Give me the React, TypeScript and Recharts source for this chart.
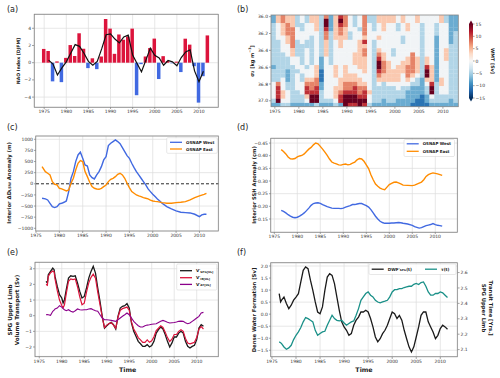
import React from "react";
import {
  ComposedChart,
  LineChart,
  ScatterChart,
  Bar,
  Line,
  Scatter,
  Cell,
  XAxis,
  YAxis,
  CartesianGrid,
  ReferenceLine,
} from "recharts";

// ---------- (a) NAO index, DJFM
const naoYears = [
  1975, 1976, 1977, 1978, 1979, 1980, 1981, 1982, 1983, 1984, 1985, 1986, 1987,
  1988, 1989, 1990, 1991, 1992, 1993, 1994, 1995, 1996, 1997, 1998, 1999, 2000,
  2001, 2002, 2003, 2004, 2005, 2006, 2007, 2008, 2009, 2010, 2011, 2012,
];
const naoIndex = [
  1.6, 1.36, -2.17, 0.15, -2.26, 0.56, 2.05, 0.78, 3.42, 1.62, -0.63, 0.51, -0.75,
  0.72, 5.08, 3.96, 1.03, 3.28, 2.67, 3.03, 3.96, -3.78, -0.17, 0.72, 1.7, 2.8,
  -1.9, 0.76, 0.2, -0.07, 0.12, -1.09, 2.79, 2.1, -0.41, -4.64, -1.57, 3.17,
];
const naoSmoothYears = [
  1976, 1977, 1978, 1979, 1980, 1981, 1982, 1983, 1984, 1985, 1986, 1987, 1988,
  1989, 1990, 1991, 1992, 1993, 1994, 1995, 1996, 1997, 1998, 1999, 2000, 2001,
  2002, 2003, 2004, 2005, 2006, 2007, 2008, 2009, 2010, 2011,
];
const naoSmooth = [
  0.3, -0.15, -1.43, -0.6, 0.1, 1.1, 2.1, 1.9, 1.1, 0.15, -0.3, 0.15, 1.6, 3.25,
  3.35, 2.75, 2.3, 3.0, 3.2, 0.9, -0.1, -1.05, 0.3, 1.7, 0.85, 0.55, -0.3, 0.25,
  0.1, -0.35, 0.6, 1.25, 1.5, -0.95, -2.2, -1.0,
];

// ---------- (b) water mass transformation, one string per column, top to bottom
const wmtYears = [
  1974.7, 1975.7, 1976.7, 1977.7, 1978.7, 1979.7, 1980.7, 1981.7, 1982.7, 1983.7,
  1984.7, 1985.7, 1986.7, 1987.7, 1988.7, 1989.7, 1990.7, 1991.7, 1992.7, 1993.7,
  1994.7, 1995.7, 1996.7, 1997.7, 1998.7, 1999.7, 2000.7, 2001.7, 2002.7, 2003.7,
  2004.7, 2005.7, 2006.7, 2007.7, 2008.7, 2009.7, 2010.7, 2011.7, 2012.7,
];
const sigmaLevels = [
  36.0, 36.05, 36.1, 36.15, 36.2, 36.25, 36.3, 36.35, 36.4, 36.45, 36.5, 36.55,
  36.6, 36.65, 36.7, 36.75, 36.8, 36.85, 36.9, 36.95, 37.0, 37.05,
];
// level 0..8 -> Sv
const wmtLevelSv = [-15, -11, -7.5, -4.5, -0.5, 4, 7.5, 11, 15];
const wmtCols = [
  "2233333333332333444432",
  "5544443333333333677782",
  "6655544443333334445543",
  "5566655444333222334443",
  "5556666655443333333332",
  "3334443333444344443332",
  "4433444333334433444332",
  "3344443344443445677542",
  "5544433333334445667882",
  "5555444444445556677883",
  "3333333333222111223332",
  "6887665555444444444432",
  "2222333333334444444432",
  "5555554444445554455543",
  "7876655544444445556772",
  "6665554444445555667888",
  "4444334444444455667887",
  "3334444445554455677887",
  "4443445555555445566788",
  "6666657566555544567787",
  "3344444444444444445443",
  "3333443333333333333332",
  "5544454456788765433332",
  "5555444445566655333322",
  "5544444444455555433332",
  "5544444433444555433332",
  "4433444444445555443322",
  "5544433444455544433322",
  "4455444444556665432222",
  "4444444446666654322221",
  "5544444444555543322211",
  "4433333333333332222111",
  "4444444444557885433221",
  "4444444444445555788432",
  "4433322222222222333332",
  "5544444444444445544332",
  "3344444455544444444332",
  "2222222333333333333322",
  "2222333333333333333332",
];
const cbTicks = [15, 10, 5, 0, -5, -10, -15];

// ---------- (c) interior LSW thickness anomaly (m)
const cYears = [
  1976.3, 1977, 1977.5, 1978, 1978.5, 1979, 1979.5, 1980, 1980.5, 1981, 1981.5,
  1982, 1982.5, 1983, 1983.5, 1984, 1984.5, 1985, 1985.5, 1986, 1986.5, 1987,
  1987.5, 1988, 1988.5, 1989, 1989.5, 1990, 1990.5, 1991, 1991.5, 1992, 1992.5,
  1993, 1993.5, 1994, 1994.5, 1995, 1995.5, 1996, 1996.5, 1997, 1997.5, 1998,
  1998.5, 1999, 1999.5, 2000, 2000.5, 2001, 2001.5, 2002, 2002.5, 2003, 2004,
  2005, 2006, 2007, 2008, 2009, 2010, 2010.5, 2011, 2011.5,
];
const cWest = [
  -326, -340, -363, -438, -513, -535, -513, -453, -438, -415, -386, -176, 124,
  273, 498, 648, 710, 573, 423, 400, 199, 139, 109, 199, 273, 386, 536, 610, 858,
  910, 948, 985, 948, 900, 812, 723, 633, 573, 461, 363, 273, 199, 124, 49, -26,
  -116, -176, -236, -288, -340, -386, -438, -475, -513, -565, -610, -640, -648,
  -655, -685, -738, -700, -685, -685,
];
const cEast = [
  386, 273, 236, 199, 49, -11, -26, -101, -116, -139, -161, -139, 11, 124, 311,
  461, 520, 498, 273, 161, 34, -64, -101, -116, -124, -101, -64, -26, 49, 101,
  124, 161, 213, 236, 199, 124, 11, -86, -176, -213, -251, -273, -290, -311,
  -325, -340, -365, -386, -395, -401, -412, -423, -430, -438, -438, -423, -415,
  -401, -363, -311, -273, -255, -236, -213,
];

// ---------- (d) interior SSH anomaly
const dYears = [
  1976.5, 1977, 1977.5, 1978, 1978.5, 1979, 1979.5, 1980, 1980.5, 1981, 1981.5,
  1982, 1982.5, 1983, 1983.5, 1984, 1984.5, 1985, 1985.5, 1986, 1986.5, 1987,
  1987.5, 1988, 1988.5, 1989, 1989.5, 1990, 1990.5, 1991, 1991.5, 1992, 1992.5,
  1993, 1993.5, 1994, 1994.5, 1995, 1995.5, 1996, 1996.5, 1997, 1997.5, 1998,
  1998.5, 1999, 1999.5, 2000, 2000.5, 2001, 2001.5, 2002, 2002.5, 2003, 2004,
  2005, 2005.5, 2006, 2006.5, 2007, 2007.5, 2008, 2008.5, 2009, 2009.5, 2010,
  2010.5, 2011, 2011.5,
];
const dEast = [
  -0.424, -0.417, -0.407, -0.395, -0.388, -0.387, -0.389, -0.395, -0.399, -0.401,
  -0.407, -0.417, -0.426, -0.433, -0.443, -0.45, -0.447, -0.437, -0.426, -0.414,
  -0.401, -0.387, -0.375, -0.371, -0.368, -0.364, -0.363, -0.366, -0.367, -0.364,
  -0.366, -0.371, -0.375, -0.384, -0.389, -0.387, -0.378, -0.364, -0.349, -0.325,
  -0.305, -0.288, -0.279, -0.272, -0.268, -0.266, -0.276, -0.286, -0.291, -0.295,
  -0.296, -0.293, -0.289, -0.284, -0.283, -0.282, -0.284, -0.288, -0.292, -0.296,
  -0.305, -0.318, -0.325, -0.329, -0.332, -0.33, -0.328, -0.325, -0.322,
];
const dWest = [
  -0.184, -0.18, -0.174, -0.167, -0.161, -0.157, -0.155, -0.157, -0.161, -0.167,
  -0.174, -0.183, -0.193, -0.204, -0.211, -0.213, -0.214, -0.212, -0.207, -0.203,
  -0.199, -0.196, -0.193, -0.192, -0.192, -0.192, -0.191, -0.193, -0.197, -0.2,
  -0.203, -0.207, -0.207, -0.209, -0.211, -0.211, -0.207, -0.203, -0.197, -0.187,
  -0.174, -0.161, -0.15, -0.141, -0.136, -0.133, -0.133, -0.133, -0.134, -0.134,
  -0.135, -0.136, -0.135, -0.133, -0.13, -0.125, -0.12, -0.117, -0.114, -0.116,
  -0.12, -0.124, -0.126, -0.128, -0.132, -0.128, -0.125, -0.124, -0.122,
];

// ---------- (e) SPG upper limb volume transport (Sv)
const eYears = [
  1976.5, 1976.8, 1977, 1977.5, 1978, 1978.3, 1978.5, 1979, 1979.5, 1980, 1980.3,
  1980.6, 1981, 1981.5, 1982, 1982.5, 1983, 1983.5, 1984, 1984.5, 1985, 1985.5,
  1986, 1986.5, 1987, 1987.5, 1988, 1988.5, 1989, 1989.5, 1990, 1990.5, 1991,
  1991.5, 1992, 1992.5, 1993, 1993.5, 1994, 1994.5, 1995, 1995.5, 1996, 1996.5,
  1997, 1997.5, 1998, 1998.5, 1999, 1999.5, 2000, 2000.5, 2001, 2001.5, 2002,
  2002.5, 2003, 2003.5, 2004, 2004.5, 2005, 2005.5, 2006, 2006.5, 2007, 2007.5,
  2008, 2008.5, 2009, 2009.5, 2010, 2010.5, 2011, 2011.5,
];
const eSpg = [
  2.19, 2.09, 2.62, 2.83, 3.04, 2.94, 2.51, 1.87, 1.34, 1.13, 0.81, 1.02, 1.66,
  2.4, 2.55, 2.51, 2.55, 2.09, 1.55, 1.13, 1.23, 1.77, 2.4, 2.83, 3.15, 2.72,
  1.77, 0.91, -0.04, -0.79, -0.64, -0.51, -0.43, -0.57, -0.85, -0.04, 0.49, 0.6,
  0.64, 0.77, 0.49, -0.47, -1.0, -1.32, -1.64, -1.79, -1.96, -1.96, -1.85, -2.0,
  -1.91, -1.64, -1.11, -0.89, -0.72, -0.85, -1.21, -1.64, -2.0, -1.74, -1.36,
  -1.36, -1.11, -1.0, -1.11, -1.64, -1.96, -2.06, -1.96, -1.89, -1.53, -0.79,
  -0.57, -0.68,
];
const eIb = [
  2.0, 1.95, 2.5, 2.75, 2.85, 2.8, 2.35, 1.6, 1.0, 0.65, 0.5, 0.7, 1.4, 2.2,
  2.35, 2.3, 2.35, 1.85, 1.2, 0.7, 0.8, 1.5, 2.1, 2.45, 2.65, 2.4, 1.5, 0.7, -0.1,
  -0.75, -0.6, -0.5, -0.45, -0.6, -0.8, -0.1, 0.35, 0.45, 0.5, 0.55, 0.35, -0.4,
  -0.85, -1.1, -1.4, -1.55, -1.7, -1.7, -1.55, -1.7, -1.6, -1.35, -0.95, -0.8,
  -0.65, -0.75, -1.05, -1.4, -1.65, -1.5, -1.2, -1.2, -1.0, -0.9, -1.0, -1.45,
  -1.75, -1.8, -1.75, -1.7, -1.4, -0.85, -0.7, -0.85,
];
const eAt = [
  0.06, 0.07, 0.06, 0.02, 0.28, 0.35, 0.43, 0.49, 0.64, 0.55, 0.45, 0.38, 0.32,
  0.38, 0.28, 0.23, 0.32, 0.43, 0.38, 0.36, 0.38, 0.38, 0.43, 0.45, 0.38, 0.32,
  0.28, 0.06, -0.15, -0.26, -0.26, -0.28, -0.3, -0.33, -0.36, -0.26, -0.15,
  -0.04, 0.06, 0.17, 0.06, -0.15, -0.36, -0.51, -0.64, -0.72, -0.72, -0.64, -0.6,
  -0.58, -0.55, -0.53, -0.51, -0.43, -0.36, -0.3, -0.36, -0.42, -0.47, -0.45,
  -0.43, -0.4, -0.36, -0.35, -0.36, -0.45, -0.51, -0.47, -0.36, -0.26, -0.15,
  -0.04, 0.17, 0.21,
];

// ---------- (f) dense water formation (Sv) and transit time (yrs)
const fYears = [
  1976.5, 1976.8, 1977, 1977.5, 1978, 1978.5, 1979, 1979.5, 1980, 1980.5, 1981,
  1981.5, 1982, 1982.5, 1983, 1983.5, 1984, 1984.5, 1985, 1985.5, 1986, 1986.5,
  1987, 1987.5, 1988, 1988.5, 1989, 1989.5, 1990, 1990.5, 1991, 1991.5, 1992,
  1992.5, 1993, 1993.5, 1994, 1994.5, 1995, 1995.5, 1996, 1996.5, 1997, 1997.5,
  1998, 1998.5, 1999, 1999.5, 2000, 2000.5, 2001, 2001.5, 2002, 2002.5, 2003,
  2003.5, 2004, 2004.5, 2005, 2005.5, 2006, 2006.5, 2007, 2007.5, 2008, 2008.5,
  2009, 2009.5, 2010, 2010.5, 2011, 2011.5,
];
const fDwf = [
  0.85, 0.51, 0.58, 0.71, 0.44, 0.23, 0.37, 0.58, 0.71, 0.85, 1.34, 1.82, 1.96,
  1.89, 1.41, 0.99, 0.51, 0.09, 0.02, 0.3, 0.99, 1.54, 1.68, 1.61, 1.27, 0.71,
  0.16, -0.32, -0.53, -0.67, -0.88, -0.81, -0.46, -0.25, -0.12, 0.09, 0.09, 0.16,
  0.09, -0.18, -0.53, -0.95, -1.15, -1.02, -0.81, -0.67, -0.46, -0.18, 0.09, 0.02,
  -0.18, -0.05, -0.25, -0.67, -1.02, -1.36, -1.57, -1.36, -0.95, -0.53, -0.05,
  0.09, 0.09, -0.32, -0.53, -0.74, -1.02, -0.88, -0.6, -0.46, -0.53, -0.63,
];
const fTau = [
  2.15, 2.145, 2.139, 2.117, 2.102, 2.111, 2.128, 2.165, 2.193, 2.215, 2.243,
  2.28, 2.308, 2.301, 2.29, 2.28, 2.225, 2.193, 2.204, 2.215, 2.219, 2.258, 2.29,
  2.323, 2.301, 2.29, 2.286, 2.29, 2.273, 2.258, 2.269, 2.28, 2.286, 2.323, 2.366,
  2.42, 2.442, 2.464, 2.474, 2.453, 2.442, 2.42, 2.409, 2.403, 2.409, 2.414, 2.42,
  2.442, 2.474, 2.489, 2.489, 2.496, 2.496, 2.503, 2.507, 2.511, 2.511, 2.524,
  2.529, 2.522, 2.535, 2.539, 2.511, 2.474, 2.453, 2.453, 2.464, 2.464, 2.474,
  2.468, 2.453, 2.438,
];

const yearTicks = [1975, 1980, 1985, 1990, 1995, 2000, 2005, 2010];

// ---------- styling
const FONT = "DejaVu Sans, sans-serif";
const TICK = { fontSize: 4.5, fill: "#333", fontFamily: FONT };
const TL = { stroke: "#666", strokeWidth: 0.6 };
const GRID = "#dcdcdc";
const RED = "#dc143c";
const BLUE = "#4169e1";
const ORANGE = "#ff8c00";
const PURPLE = "#8b008b";
const TEAL = "#1a9088";
const rdbu = [
  "#053061", "#2166ac", "#4393c3", "#92c5de", "#d1e5f0", "#f7f7f7",
  "#fddbc7", "#f4a582", "#d6604d", "#b2182b", "#67001f",
];

function hex(c: string) {
  return [1, 3, 5].map((i) => parseInt(c.slice(i, i + 2), 16));
}
function rdbuColor(v: number) {
  const t = Math.max(0, Math.min(1, (v + 15) / 30)) * 10;
  const i = Math.min(9, Math.floor(t));
  const f = t - i;
  const a = hex(rdbu[i]);
  const b = hex(rdbu[i + 1]);
  const m = a.map((x, k) => Math.round(x + (b[k] - x) * f));
  return `rgb(${m[0]},${m[1]},${m[2]})`;
}

const minus = (s: string) => s.replace("-", "\u2212");
const fmt0 = (v: number) => minus(String(v));
const fmt1 = (v: number) => minus(v.toFixed(1));
const fmt2 = (v: number) => minus(v.toFixed(2));

// plot boxes (figure pixels)
type Box = { x0: number; y0: number; x1: number; y1: number };
const PANEL: Record<string, Box> = {
  a: { x0: 34.3, y0: 14.3, x1: 218.3, y1: 107.3 },
  b: { x0: 271, y0: 15, x1: 458.3, y1: 106.7 },
  c: { x0: 35.7, y0: 136, x1: 218.3, y1: 231 },
  d: { x0: 270.7, y0: 138.3, x1: 457.3, y1: 232.3 },
  e: { x0: 35, y0: 262.3, x1: 218.3, y1: 356.7 },
  f: { x0: 270.7, y0: 262.7, x1: 457.3, y1: 356.7 },
};
const YW = 30;
const MT = 4;
const XH = 14;
const MR = 4;

function geo(b: Box, rw = 0) {
  return {
    style: { position: "absolute" as const, left: b.x0 - YW, top: b.y0 - MT },
    width: b.x1 - b.x0 + YW + (rw || MR),
    height: b.y1 - b.y0 + MT + XH,
    margin: { top: MT, right: rw ? 0 : MR, bottom: 0, left: 0 },
  };
}

const xAxis = (domain: number[], key = "year") => (
  <XAxis
    type="number"
    dataKey={key}
    domain={domain}
    ticks={yearTicks}
    allowDataOverflow
    interval={0}
    height={XH}
    tick={TICK}
    tickSize={2}
    tickMargin={1}
    axisLine={false}
    tickLine={TL}
  />
);

// ---------- rows
const smoothByYear: Record<number, number> = {};
naoSmoothYears.forEach((y, i) => (smoothByYear[y] = naoSmooth[i]));
const naoRows = naoYears.map((y, i) => ({ year: y, nao: naoIndex[i], smooth: smoothByYear[y] }));
const wmtCells = wmtYears.flatMap((yr, i) =>
  sigmaLevels.map((s, j) => ({ year: yr, sigma: s, v: wmtLevelSv[Number(wmtCols[i][j] ?? 4)] }))
);
const cRows = cYears.map((y, i) => ({ year: y, west: cWest[i], east: cEast[i] }));
const dRows = dYears.map((y, i) => ({ year: y, west: dWest[i], east: dEast[i] }));
const eRows = eYears.map((y, i) => ({ year: y, spg: eSpg[i], ib: eIb[i], at: eAt[i] }));
const fRows = fYears.map((y, i) => ({ year: y, dwf: fDwf[i], tau: fTau[i] }));

function PanelA() {
  const g = geo(PANEL.a);
  return (
    <div style={g.style}>
      <ComposedChart width={g.width} height={g.height} margin={g.margin} data={naoRows}>
        <CartesianGrid stroke={GRID} strokeWidth={0.7} />
        {xAxis([1972.7, 2014.3])}
        <YAxis type="number" domain={[-5.15, 5.66]} ticks={[-4, -2, 0, 2, 4]} allowDataOverflow width={YW}
          tick={TICK} tickFormatter={fmt0} tickSize={2} tickMargin={1} axisLine={false} tickLine={TL} />
        <Bar dataKey="nao" barSize={3.5} isAnimationActive={false}>
          {naoRows.map((r, i) => (
            <Cell key={i} fill={r.nao >= 0 ? RED : BLUE} />
          ))}
        </Bar>
        <Line dataKey="smooth" type="linear" stroke="#111" strokeWidth={1.2} dot={false} isAnimationActive={false} />
      </ComposedChart>
    </div>
  );
}

const bBox = PANEL.b;
const CW = (bBox.x1 - bBox.x0) / (2013.2 - 1974.2);
const CH = ((bBox.y1 - bBox.y0) * 0.05) / (37.07 - 35.98);
const HeatCell = (p: any) => (
  <rect x={p.cx - CW / 2} y={p.cy - CH / 2} width={CW + 0.2} height={CH + 0.2} fill={rdbuColor(p.payload.v)} />
);
const sigmaTicks = [36.0, 36.2, 36.4, 36.6, 36.8, 37.0];

function PanelB() {
  const g = geo(PANEL.b);
  return (
    <div style={g.style}>
      <ScatterChart width={g.width} height={g.height} margin={g.margin}>
        {xAxis([1974.2, 2013.2])}
        <YAxis type="number" dataKey="sigma" domain={[35.98, 37.07]} reversed ticks={sigmaTicks} allowDataOverflow
          width={YW} tick={TICK} tickFormatter={fmt1} tickSize={2} tickMargin={1} axisLine={false} tickLine={TL} />
        <Scatter data={wmtCells} shape={HeatCell} isAnimationActive={false} />
        {yearTicks.map((t) => (
          <ReferenceLine key={"x" + t} x={t} stroke="#777" strokeOpacity={0.45} strokeWidth={0.6} />
        ))}
        {sigmaTicks.map((t) => (
          <ReferenceLine key={"y" + t} y={t} stroke="#777" strokeOpacity={0.45} strokeWidth={0.6} />
        ))}
      </ScatterChart>
    </div>
  );
}

function PanelC() {
  const g = geo(PANEL.c);
  return (
    <div style={g.style}>
      <LineChart width={g.width} height={g.height} margin={g.margin} data={cRows}>
        <CartesianGrid stroke={GRID} strokeWidth={0.7} />
        {xAxis([1975, 2014.1])}
        <YAxis type="number" domain={[-1061, 1074]} ticks={[-1000, -750, -500, -250, 0, 250, 500, 750, 1000]}
          allowDataOverflow width={YW} tick={TICK} tickFormatter={fmt0} tickSize={2} tickMargin={1}
          axisLine={false} tickLine={TL} />
        <ReferenceLine y={0} stroke="#111" strokeWidth={0.9} strokeDasharray="3 2" />
        <Line dataKey="west" stroke={BLUE} strokeWidth={1.4} dot={false} isAnimationActive={false} />
        <Line dataKey="east" stroke={ORANGE} strokeWidth={1.4} dot={false} isAnimationActive={false} />
      </LineChart>
    </div>
  );
}

function PanelD() {
  const g = geo(PANEL.d);
  return (
    <div style={g.style}>
      <LineChart width={g.width} height={g.height} margin={g.margin} data={dRows}>
        <CartesianGrid stroke={GRID} strokeWidth={0.7} />
        {xAxis([1974.28, 2014.85])}
        <YAxis type="number" domain={[-0.47, -0.0986]} reversed ticks={[-0.45, -0.4, -0.35, -0.3, -0.25, -0.2, -0.15]}
          allowDataOverflow width={YW} tick={TICK} tickFormatter={fmt2} tickSize={2} tickMargin={1}
          axisLine={false} tickLine={TL} />
        <Line dataKey="west" stroke={BLUE} strokeWidth={1.4} dot={false} isAnimationActive={false} />
        <Line dataKey="east" stroke={ORANGE} strokeWidth={1.4} dot={false} isAnimationActive={false} />
      </LineChart>
    </div>
  );
}

function PanelE() {
  const g = geo(PANEL.e);
  return (
    <div style={g.style}>
      <LineChart width={g.width} height={g.height} margin={g.margin} data={eRows}>
        <CartesianGrid stroke={GRID} strokeWidth={0.7} />
        {xAxis([1974.05, 2014.8])}
        <YAxis type="number" domain={[-2.6, 3.43]} ticks={[-2, -1, 0, 1, 2, 3]} allowDataOverflow width={YW}
          tick={TICK} tickFormatter={fmt0} tickSize={2} tickMargin={1} axisLine={false} tickLine={TL} />
        <Line dataKey="spg" stroke="#1a1a1a" strokeWidth={1.3} dot={false} isAnimationActive={false} />
        <Line dataKey="ib" stroke={RED} strokeWidth={1.2} dot={false} isAnimationActive={false} />
        <Line dataKey="at" stroke={PURPLE} strokeWidth={1.1} dot={false} isAnimationActive={false} />
      </LineChart>
    </div>
  );
}

function PanelF() {
  const RW = 28;
  const g = geo(PANEL.f, RW);
  return (
    <div style={g.style}>
      <LineChart width={g.width} height={g.height} margin={g.margin} data={fRows}>
        <CartesianGrid stroke={GRID} strokeWidth={0.7} yAxisId="l" />
        {xAxis([1974.8, 2013.6])}
        <YAxis yAxisId="l" type="number" domain={[-1.78, 2.125]} ticks={[-1.5, -1, -0.5, 0, 0.5, 1, 1.5, 2]}
          allowDataOverflow width={YW} tick={TICK} tickFormatter={fmt1} tickSize={2} tickMargin={1}
          axisLine={false} tickLine={TL} />
        <YAxis yAxisId="r" orientation="right" type="number" domain={[2.052, 2.662]}
          ticks={[2.1, 2.2, 2.3, 2.4, 2.5, 2.6]} allowDataOverflow width={RW} tick={TICK} tickFormatter={fmt1}
          tickSize={2} tickMargin={1} axisLine={false} tickLine={TL} />
        <Line yAxisId="l" dataKey="dwf" stroke="#1a1a1a" strokeWidth={1.3} dot={false} isAnimationActive={false} />
        <Line yAxisId="r" dataKey="tau" stroke={TEAL} strokeWidth={1.3} dot={false} isAnimationActive={false} />
      </LineChart>
    </div>
  );
}

// ---------- text, frames, legends, colorbar
const VLabel = ({ x, y, size, rot = -90, children }: any) => (
  <text transform={`translate(${x},${y}) rotate(${rot})`} textAnchor="middle" dominantBaseline="central"
    fontSize={size} fontWeight="bold" fill="#222">
    {children}
  </text>
);

const LegendRow = ({ x, y, color, children, size = 4 }: any) => (
  <g>
    <line x1={x} x2={x + 12} y1={y} y2={y} stroke={color} strokeWidth={1.3} />
    <text x={x + 16} y={y} dominantBaseline="central" fontSize={size} fontWeight="bold" fill="#222">
      {children}
    </text>
  </g>
);

function Overlay() {
  const cbTop = 24;
  const cbBot = 98;
  const cbY = (v: number) => cbTop + ((15 - v) / 30) * (cbBot - cbTop);
  return (
    <svg width={500} height={378} style={{ position: "absolute", left: 0, top: 0, pointerEvents: "none" }}
      fontFamily={FONT}>
      <defs>
        <linearGradient id="rdbuGrad" x1="0" y1="1" x2="0" y2="0">
          {rdbu.map((c, i) => (
            <stop key={i} offset={i / 10} stopColor={c} />
          ))}
        </linearGradient>
      </defs>
      {Object.values(PANEL).map((b, i) => (
        <rect key={i} x={b.x0} y={b.y0} width={b.x1 - b.x0} height={b.y1 - b.y0} fill="none" stroke="#858585"
          strokeWidth={0.8} />
      ))}

      <text x={7} y={11.5} fontSize={8} fill="#222">(a)</text>
      <text x={237} y={11.5} fontSize={8} fill="#222">(b)</text>
      <text x={7} y={129.5} fontSize={8} fill="#222">(c)</text>
      <text x={237} y={129.5} fontSize={8} fill="#222">(d)</text>
      <text x={7} y={254.5} fontSize={8} fill="#222">(e)</text>
      <text x={237} y={254.5} fontSize={8} fill="#222">(f)</text>

      <VLabel x={18} y={61} size={4.6}>NAO Index [DJFM]</VLabel>
      <VLabel x={252} y={61} size={5}>
        σ<tspan fontSize={3.4} dy={1.2}>2</tspan>
        <tspan dy={-1.2}> [kg m</tspan>
        <tspan fontSize={3.4} dy={-1.6}>−3</tspan>
        <tspan dy={1.6}>]</tspan>
      </VLabel>
      <VLabel x={8.5} y={183} size={5.3}>
        Interior ΔD<tspan fontSize={3.6} dy={1.2}>LSW</tspan>
        <tspan dy={-1.2}> Anomaly (m)</tspan>
      </VLabel>
      <VLabel x={254} y={185} size={5.2}>Interior SSH Anomaly (cm)</VLabel>
      <VLabel x={9.5} y={310} size={5.6}>SPG Upper Limb</VLabel>
      <VLabel x={17} y={310} size={5.6}>Volume Transport (Sv)</VLabel>
      <VLabel x={254} y={310} size={5.3}>Dense Water Formation [Sv]</VLabel>
      <VLabel x={484} y={308} size={5.3} rot={90}>SPG Upper Limb</VLabel>
      <VLabel x={491} y={308} size={5.3} rot={90}>Transit Time [Yrs.]</VLabel>
      <VLabel x={492} y={61} size={4.8} rot={90}>WMT [Sv]</VLabel>

      <text x={127.7} y={369.5} textAnchor="middle" dominantBaseline="central" fontSize={6.3} fontWeight="bold"
        fill="#222">Time</text>
      <text x={364} y={369.5} textAnchor="middle" dominantBaseline="central" fontSize={6.3} fontWeight="bold"
        fill="#222">Time</text>

      {/* colorbar */}
      <rect x={469} y={cbTop} width={4} height={cbBot - cbTop} fill="url(#rdbuGrad)" />
      <polygon points={`469,${cbTop} 473,${cbTop} 471,${cbTop - 3.5}`} fill={rdbu[10]} />
      <polygon points={`469,${cbBot} 473,${cbBot} 471,${cbBot + 3.5}`} fill={rdbu[0]} />
      {cbTicks.map((t) => (
        <g key={t}>
          <line x1={473} x2={474.6} y1={cbY(t)} y2={cbY(t)} stroke="#666" strokeWidth={0.6} />
          <text x={475.6} y={cbY(t)} dominantBaseline="central" fontSize={4.5} fill="#333">{fmt0(t)}</text>
        </g>
      ))}

      {/* legend (c) */}
      <rect x={166.7} y={137.7} width={50.6} height={15.6} rx={1.2} fill="#fff" fillOpacity={0.85} stroke="#d0d0d0"
        strokeWidth={0.5} />
      <LegendRow x={170} y={142.3} color={BLUE}>OSNAP West</LegendRow>
      <LegendRow x={170} y={149} color={ORANGE}>OSNAP East</LegendRow>

      {/* legend (d) */}
      <rect x={404} y={139.5} width={50.5} height={17} rx={1.2} fill="#fff" fillOpacity={0.85} stroke="#d0d0d0"
        strokeWidth={0.5} />
      <LegendRow x={406.7} y={143.8} color={BLUE}>OSNAP West</LegendRow>
      <LegendRow x={406.7} y={151.3} color={ORANGE}>OSNAP East</LegendRow>

      {/* legend (e) */}
      <rect x={176.7} y={264} width={40} height={26} rx={1.2} fill="#fff" fillOpacity={0.85} stroke="#d0d0d0"
        strokeWidth={0.5} />
      <LegendRow x={180} y={270.7} color="#1a1a1a" size={4.2}>
        V′<tspan fontSize={2.8} dy={0.8}>SPG[UL]</tspan>
      </LegendRow>
      <LegendRow x={180} y={277.7} color={RED} size={4.2}>
        V′<tspan fontSize={2.8} dy={0.8}>IB[UL]</tspan>
      </LegendRow>
      <LegendRow x={180} y={284.4} color={PURPLE} size={4.2}>
        V′<tspan fontSize={2.8} dy={0.8}>AT[UL]</tspan>
      </LegendRow>

      {/* legend (f) */}
      <rect x={369} y={264} width={87} height={10.5} rx={1.2} fill="#fff" fillOpacity={0.85} stroke="#d0d0d0"
        strokeWidth={0.5} />
      <LegendRow x={371.7} y={269.2} color="#1a1a1a" size={4.2}>
        DWF′<tspan fontSize={2.8} dy={0.8}>SPG</tspan>
        <tspan dy={-0.8}>(t)</tspan>
      </LegendRow>
      <LegendRow x={425} y={269.2} color={TEAL} size={4.2}>τ(t)</LegendRow>
    </svg>
  );
}

export default function App() {
  return (
    <div
      style={{
        position: "absolute",
        left: 0,
        top: 0,
        width: 500,
        height: 378,
        background: "#fff",
        overflow: "hidden",
        fontFamily: FONT,
      }}
    >
      <PanelA />
      <PanelB />
      <PanelC />
      <PanelD />
      <PanelE />
      <PanelF />
      <Overlay />
    </div>
  );
}
